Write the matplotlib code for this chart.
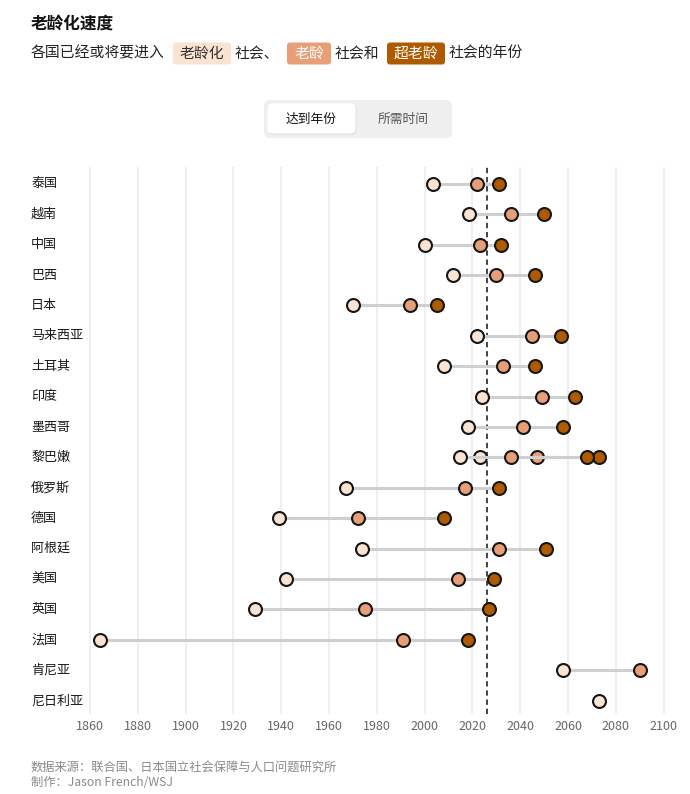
import numpy as np
import matplotlib
matplotlib.use("Agg")
import matplotlib.pyplot as plt
from matplotlib.patches import FancyBboxPatch
from matplotlib.transforms import blended_transform_factory

plt.rcParams['font.family'] = ['Noto Sans CJK SC', 'DejaVu Sans']

# data: year each country becomes aging / aged / super-aged (nan = not reached)
rows = ['泰国', '越南', '中国', '巴西', '日本', '马来西亚', '土耳其', '印度', '墨西哥',
        '黎巴嫩', '俄罗斯', '德国', '阿根廷', '美国', '英国', '法国', '肯尼亚', '尼日利亚']
countries = ['泰国', '越南', '中国', '巴西', '日本', '马来西亚', '土耳其', '印度', '墨西哥',
             '黎巴嫩', '黎巴嫩', '俄罗斯', '德国', '阿根廷', '美国', '英国', '法国', '肯尼亚', '尼日利亚']
aging = [2003.5, 2018.5, 2000, 2012, 1970, 2022, 2008, 2024, 2018,
         2023, 2015, 1967, 1939, 1974, 1942, 1929, 1864, 2058, 2073]
aged = [2022, 2036, 2023, 2030, 1994, 2045, 2033, 2049, 2041,
        2047, 2036, 2017, 1972, 2031, 2014, 1975, 1991, 2090, np.nan]
super_aged = [2031, 2050, 2032, 2046, 2005, 2057, 2046, 2063, 2058,
              2073, 2068, 2031, 2008, 2051, 2029, 2027, 2018, np.nan, np.nan]
current_year = 2026

light, mid, dark = '#fbe3d2', '#e89f78', '#b05a00'
edge = '#151515'

W, H = 690, 794
fig = plt.figure(figsize=(W / 100, H / 100), dpi=100)

# overlay axes in pixel coordinates for header / footer
bg = fig.add_axes([0, 0, 1, 1])
bg.set_xlim(0, W)
bg.set_ylim(H, 0)
bg.axis('off')

bg.text(31, 24, '老龄化速度', fontsize=12, fontweight='bold', va='center', color='#111')

sub_y = 53.5
fs_sub = 10.7
bg.text(31, sub_y, '各国已经或将要进入', fontsize=fs_sub, va='center', color='#222')
pieces = [(173, 231, '老龄化', light, '#333'),
          (287, 331, '老龄', mid, 'white'),
          (387, 445, '超老龄', dark, 'white')]
for x0, x1, label, fc, tc in pieces:
    bg.add_patch(FancyBboxPatch((x0 + 2, sub_y - 9), x1 - x0 - 4, 18,
                                boxstyle='round,pad=2,rounding_size=3', fc=fc, ec='none'))
    bg.text((x0 + x1) / 2, sub_y, label, fontsize=fs_sub, va='center', ha='center', color=tc)
bg.text(235, sub_y, '社会、', fontsize=fs_sub, va='center', color='#222')
bg.text(335, sub_y, '社会和', fontsize=fs_sub, va='center', color='#222')
bg.text(449, sub_y, '社会的年份', fontsize=fs_sub, va='center', color='#222')

# toggle buttons
bg.add_patch(FancyBboxPatch((264, 100), 188, 38, boxstyle='round,pad=0,rounding_size=6',
                            fc='#efefef', ec='none'))
bg.add_patch(FancyBboxPatch((268.5, 105), 88, 30, boxstyle='round,pad=0,rounding_size=5',
                            fc='#e2e2e2', ec='none'))
bg.add_patch(FancyBboxPatch((267.5, 103.5), 88, 30, boxstyle='round,pad=0,rounding_size=5',
                            fc='white', ec='none'))
bg.text(311, 119, '达到年份', fontsize=9.2, ha='center', va='center', color='#111')
bg.text(403, 119, '所需时间', fontsize=9.2, ha='center', va='center', color='#555')

bg.text(31, 767, '数据来源：联合国、日本国立社会保障与人口问题研究所', fontsize=8.8,
        va='center', color='#8a8a8a')
bg.text(31, 782, '制作：Jason French/WSJ', fontsize=8.8, va='center', color='#8a8a8a')

# main chart
px_per_year = 2.39
x_left = 90 - 6 * px_per_year
ax = fig.add_axes([x_left / W, 1 - 714 / H, 250 * px_per_year / W, (714 - 166.5) / H])
ax.set_facecolor('none')
ax.set_xlim(1854, 2104)
ax.set_ylim(17.44, -0.57)
for s in ax.spines.values():
    s.set_visible(False)
ax.set_xticks(np.arange(1860, 2101, 20))
ax.set_yticks([])
ax.tick_params(axis='x', length=0, pad=4, labelsize=9, labelcolor='#666')
ax.grid(axis='x', color='#ebebeb', lw=1.1, zorder=0)
ax.set_axisbelow(True)

ax.axvline(current_year, color='#111', lw=1.1, ls=(0, (3.5, 2.5)), zorder=1.5)

row_pos = {name: i for i, name in enumerate(rows)}
z = 2
for name, a, b, c in zip(countries, aging, aged, super_aged):
    y = row_pos[name]
    vals = np.array([a, b, c], dtype=float)
    vals_ok = vals[~np.isnan(vals)]
    if len(vals_ok) > 1:
        ax.plot([vals_ok.min(), vals_ok.max()], [y, y], color='#cfcfcf', lw=2.2,
                solid_capstyle='butt', zorder=z)
    for v, col in zip(vals, [light, mid, dark]):
        if not np.isnan(v):
            ax.plot(v, y, 'o', ms=9.3, mfc=col, mec=edge, mew=1.5, zorder=z + 0.5)
    z += 1

lab_tr = blended_transform_factory(fig.transFigure, ax.transData)
for name, i in row_pos.items():
    ax.text(31 / W, i, name, transform=lab_tr, fontsize=9.4, va='center', ha='left', color='#1a1a1a')

fig.savefig('out.png', dpi=100)
